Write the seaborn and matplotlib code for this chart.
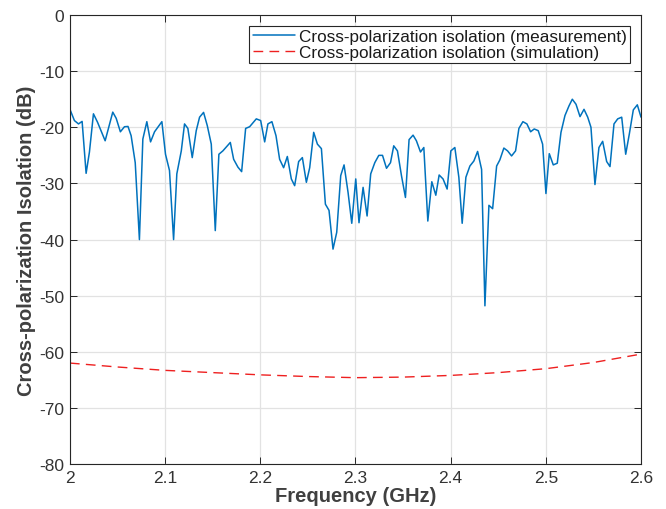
import matplotlib
matplotlib.use("Agg")
import matplotlib.pyplot as plt
from matplotlib.ticker import FuncFormatter
import pandas as pd
import seaborn as sns

# Measured cross-polarization isolation (GHz, dB)
meas_freq = [
    2.000, 2.0047, 2.009, 2.0128, 2.017, 2.0205, 2.0247, 2.029, 2.037, 2.045,
    2.0486, 2.053, 2.0573, 2.061, 2.0643, 2.0686, 2.073, 2.0766, 2.0808, 2.0847,
    2.0889, 2.0966, 2.1004, 2.1046, 2.1089, 2.1123, 2.117, 2.1204, 2.1239, 2.1285,
    2.1327, 2.1362, 2.1404, 2.1443, 2.1485, 2.1527, 2.1565, 2.1607, 2.1685, 2.172,
    2.1765, 2.1804, 2.1846, 2.1888, 2.1958, 2.2004, 2.2046, 2.208, 2.2122, 2.2165,
    2.2203, 2.2245, 2.2284, 2.2326, 2.2361, 2.2403, 2.2442, 2.2484, 2.2519, 2.2561,
    2.260, 2.2642, 2.2684, 2.2722, 2.2764, 2.2803, 2.2845, 2.288, 2.2922, 2.2961,
    2.3003, 2.3037, 2.308, 2.3122, 2.316, 2.3203, 2.3245, 2.3284, 2.3326, 2.3368,
    2.3402, 2.3441, 2.3483, 2.3525, 2.3563, 2.3605, 2.364, 2.3683, 2.3718, 2.376,
    2.3802, 2.3844, 2.3879, 2.392, 2.3963, 2.4002, 2.4044, 2.4086, 2.4121, 2.416,
    2.4202, 2.4244, 2.4283, 2.4325, 2.436, 2.4402, 2.4441, 2.4483, 2.4517, 2.4559,
    2.4598, 2.464, 2.4682, 2.4717, 2.4759, 2.4801, 2.484, 2.4878, 2.492, 2.4966,
    2.5001, 2.5036, 2.5078, 2.512, 2.5159, 2.5201, 2.5243, 2.5278, 2.5317, 2.5359,
    2.5401, 2.544, 2.5474, 2.5516, 2.5558, 2.5597, 2.5639, 2.5674, 2.5716, 2.5755,
    2.5797, 2.5839, 2.5877, 2.5919, 2.5961, 2.600,
]
meas_db = [
    -16.8, -18.8, -19.4, -18.95, -28.2, -24.4, -17.6, -19.1, -22.4, -17.3,
    -18.4, -20.8, -19.9, -19.85, -21.5, -26.3, -40.0, -22.1, -19.0, -22.6,
    -20.8, -19.0, -24.8, -27.7, -40.0, -28.3, -24.2, -19.4, -20.2, -25.4,
    -20.6, -18.2, -17.35, -19.7, -23.0, -38.4, -24.8, -24.2, -22.7, -25.7,
    -27.1, -27.9, -20.2, -19.9, -18.5, -18.8, -22.6, -19.4, -19.0, -21.5,
    -25.7, -27.2, -25.2, -29.2, -30.4, -26.1, -25.4, -29.8, -27.2, -20.9,
    -23.0, -23.8, -33.7, -34.8, -41.7, -38.7, -28.6, -26.7, -31.6, -37.1,
    -29.2, -37.0, -30.7, -35.8, -28.3, -26.3, -25.0, -25.0, -27.3, -26.3,
    -23.3, -24.2, -28.6, -32.5, -22.2, -21.4, -22.4, -24.4, -23.6, -36.7,
    -29.7, -32.1, -28.5, -29.2, -31.0, -24.2, -23.6, -28.9, -37.1, -28.9,
    -26.9, -26.0, -24.3, -27.5, -51.8, -33.9, -34.5, -26.9, -25.8, -23.7,
    -24.2, -25.1, -24.2, -20.2, -19.0, -19.4, -20.8, -20.3, -20.6, -23.0,
    -31.8, -24.7, -26.7, -26.4, -20.9, -17.9, -16.2, -15.0, -15.9, -18.1,
    -16.8, -18.2, -20.0, -30.2, -23.6, -22.5, -26.1, -27.0, -19.4, -18.5,
    -18.2, -24.8, -21.2, -16.9, -16.0, -18.2,
]

# Simulated cross-polarization isolation (GHz, dB)
sim_freq = [2.00, 2.05, 2.10, 2.15, 2.20, 2.25, 2.30, 2.35, 2.40, 2.45, 2.50, 2.55, 2.60]
sim_db = [-62.0, -62.7, -63.3, -63.7, -64.1, -64.4, -64.6, -64.5, -64.2, -63.7, -63.0, -61.9, -60.4]

x_ticks = [2.0, 2.1, 2.2, 2.3, 2.4, 2.5, 2.6]
y_ticks = [-80, -70, -60, -50, -40, -30, -20, -10, 0]

label_meas = "Cross-polarization isolation (measurement)"
label_sim = "Cross-polarization isolation (simulation)"

sns.set_theme(style="whitegrid")
plt.rcParams["font.family"] = ["Liberation Sans", "DejaVu Sans"]
plt.rcParams["axes.unicode_minus"] = False

ink = "#262626"

df_meas = pd.DataFrame({"f": meas_freq, "db": meas_db})
df_sim = pd.DataFrame({"f": sim_freq, "db": sim_db})

fig = plt.figure(figsize=(6.66, 5.10), dpi=100)
ax = fig.add_axes([0.105, 0.088, 0.8575, 0.8806])

sns.lineplot(data=df_meas, x="f", y="db", ax=ax, color="#0072BD",
             linewidth=1.1, sort=False, label=label_meas)
sns.lineplot(data=df_sim, x="f", y="db", ax=ax, color="#EE2020",
             linewidth=1.0, sort=False, label=label_sim, dashes=False)
ax.lines[-1].set_dashes([7, 4.5])

ax.set_xlim(2.0, 2.6)
ax.set_ylim(-80, 0)
ax.set_xticks(x_ticks)
ax.set_yticks(y_ticks)
ax.xaxis.set_major_formatter(FuncFormatter(lambda v, p: f"{v:g}"))
ax.yaxis.set_major_formatter(FuncFormatter(lambda v, p: f"{v:g}"))

ax.set_facecolor("white")
ax.grid(True, color="#E2E2E2", linewidth=0.9)
for s in ax.spines.values():
    s.set_visible(True)
    s.set_color(ink)
    s.set_linewidth(0.8)

ax.tick_params(axis="both", which="major", direction="in", length=5, width=0.7,
               colors=ink, labelsize=12.5, top=True, right=True,
               bottom=True, left=True, pad=4)
for lbl in ax.get_xticklabels() + ax.get_yticklabels():
    lbl.set_color("#333333")

ax.set_xlabel("Frequency (GHz)", fontsize=14.5, fontweight="bold", color="#404040", labelpad=1)
ax.set_ylabel("Cross-polarization Isolation (dB)", fontsize=14.5, fontweight="bold",
              color="#404040", labelpad=2)

leg = ax.legend(loc="upper right", bbox_to_anchor=(0.981, 0.976), borderaxespad=0,
                fontsize=12.3, frameon=True, fancybox=False, handlelength=2.45,
                handletextpad=0.25, labelspacing=0.05, borderpad=0.2)
leg.get_frame().set_edgecolor(ink)
leg.get_frame().set_linewidth(0.8)
leg.get_frame().set_facecolor("white")
leg.get_frame().set_alpha(1.0)
for t in leg.get_texts():
    t.set_color("#1A1A1A")

fig.savefig("out.png", dpi=100, facecolor="white")
